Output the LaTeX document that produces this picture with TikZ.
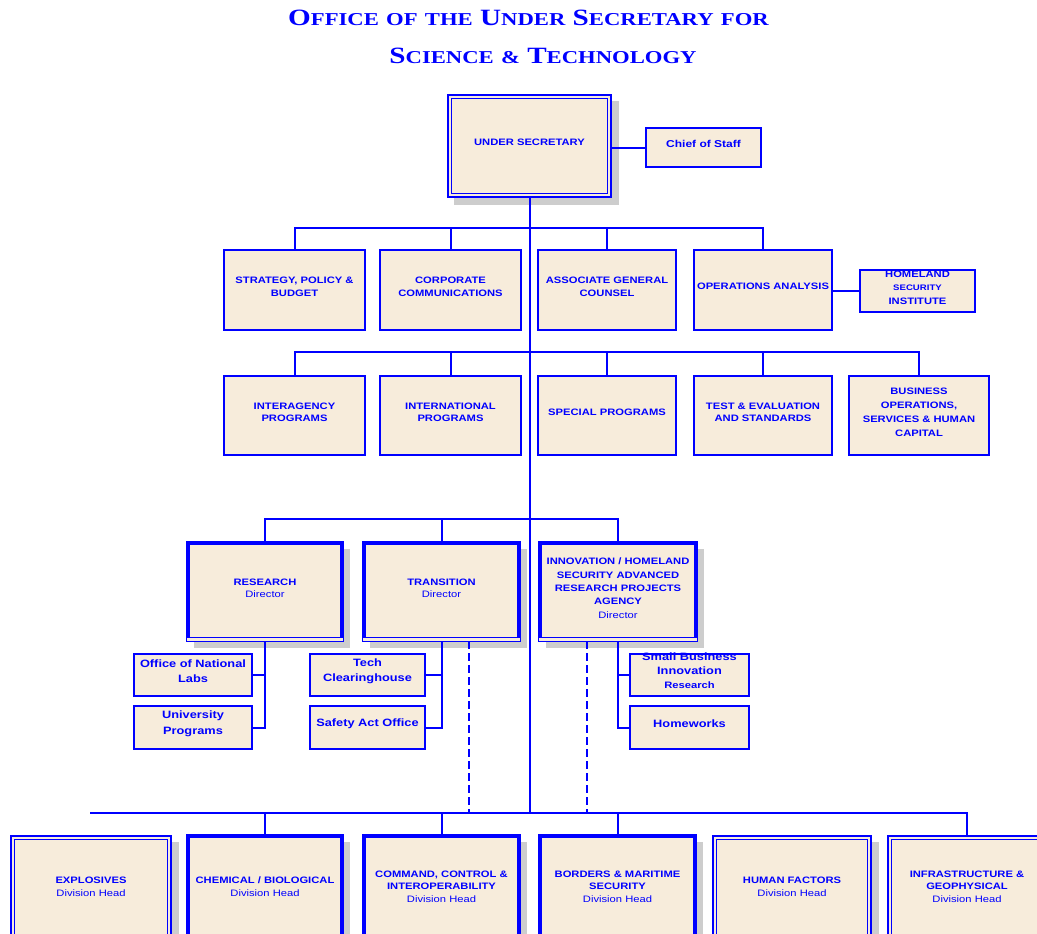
\documentclass[tikz,border=0pt]{standalone}
\usepackage{fontspec}
\usetikzlibrary{shadows,fit}
\newfontfamily\titlefont[FakeStretch=1.25]{Liberation Serif}
\newfontfamily\boxfont[FakeStretch=1.2]{Liberation Sans}
\definecolor{bl}{RGB}{0,0,255}
\definecolor{beige}{RGB}{247,236,219}
\definecolor{shade}{RGB}{205,205,205}
\newcommand{\tA}[2]{{\fontsize{17.5}{20}\selectfont #1}{\fontsize{13.6}{16}\selectfont #2}}
\newcommand{\tB}[1]{{\fontsize{13.6}{16}\selectfont #1}}
\newcommand{\tframe}[1]{%
 \draw[bl, line width=0.9pt] (#1.south west) rectangle (#1.north east);
 \draw[bl, line width=2.4pt] ([shift={(1.6pt,2.8pt)}]#1.south west) -- ([shift={(1.6pt,-1.6pt)}]#1.north west) -- ([shift={(-1.6pt,-1.6pt)}]#1.north east) -- ([shift={(-1.6pt,2.8pt)}]#1.south east);
 \draw[bl, line width=0.9pt] ([shift={(1.6pt,2.8pt)}]#1.south west) -- ([shift={(-1.6pt,2.8pt)}]#1.south east);}
\newcommand{\dframe}[1]{%
 \draw[bl, line width=1.5pt] ([shift={(0.75pt,0.75pt)}]#1.south west) rectangle ([shift={(-0.75pt,-0.75pt)}]#1.north east);
 \draw[bl, line width=1.3pt] ([shift={(3.6pt,3.6pt)}]#1.south west) rectangle ([shift={(-3.6pt,-3.6pt)}]#1.north east);}
\tikzset{
 conn/.style={draw=bl, line width=1.5pt},
 dashconn/.style={draw=bl, line width=1.5pt, dash pattern=on 5.5pt off 3.5pt},
 basebox/.style={fill=beige, text=bl, inner sep=0pt, align=center, font=\boxfont\bfseries\fontsize{7}{9.5}\selectfont},
 box/.style={basebox, draw=bl, line width=1.5pt},
 dbox/.style={basebox},
 tbox/.style={basebox},
 shad/.style={general shadow={fill=shade, shadow xshift=5pt, shadow yshift=-5pt}},
 subbox/.style={box, font=\boxfont\bfseries\fontsize{8}{11.5}\selectfont},
 titletext/.style={text=bl, anchor=base, inner sep=0pt, font=\titlefont\bfseries\fontsize{17.5}{20}\selectfont},
}
\begin{document}
\begin{tikzpicture}[x=0.75pt,y=-0.75pt]
\useasboundingbox (0,0) rectangle (1037,933);
\begin{scope}
\clip (0,0) rectangle (1037,933);
% title
\node[titletext] (t1) at (528.5,25.5) {\tA{O}{FFICE} \tB{OF} \tB{THE} \tA{U}{NDER} \tA{S}{ECRETARY} \tB{FOR}};
\node[titletext] (t2) at (543,63) {\tA{S}{CIENCE} \tB{\&} \tA{T}{ECHNOLOGY}};
% bus levels
\coordinate (b2) at (0,228);
\coordinate (b3) at (0,352);
\coordinate (b4) at (0,519);
\coordinate (b5) at (0,813);
\coordinate (b5l) at (90,813);
\coordinate (dx1) at (469,0);
\coordinate (dx2) at (587,0);
% top
\node[dbox, shad, fit={(447,94) (612,198)}] (us) {UNDER SECRETARY};
\dframe{us}
\node[box, fit={(646,128) (761,167)}, font=\boxfont\bfseries\fontsize{7.5}{9.5}\selectfont] (cos) {Chief of Staff};
% row 2
\node[box, fit={(224,250) (365,330)}] (spb) {STRATEGY, POLICY \&\\BUDGET};
\node[box, fit={(380,250) (521,330)}] (cc) {CORPORATE\\COMMUNICATIONS};
\node[box, fit={(538,250) (676,330)}] (agc) {ASSOCIATE GENERAL\\COUNSEL};
\node[box, fit={(694,250) (832,330)}] (oa) {OPERATIONS ANALYSIS};
\node[box, fit={(860,270) (975,312)}, font=\boxfont\bfseries\fontsize{7}{10}\selectfont] (hsi) {HOMELAND\\{\fontsize{6}{10}\selectfont SECURITY}\\INSTITUTE};
% row 3
\node[box, fit={(224,376) (365,455)}] (ip) {INTERAGENCY\\PROGRAMS};
\node[box, fit={(380,376) (521,455)}] (intl) {INTERNATIONAL\\PROGRAMS};
\node[box, fit={(538,376) (676,455)}] (sp) {SPECIAL PROGRAMS};
\node[box, fit={(694,376) (832,455)}] (te) {TEST \& EVALUATION\\AND STANDARDS};
\node[box, fit={(849,376) (989,455)}, font=\boxfont\bfseries\fontsize{7}{10.5}\selectfont] (bus) {BUSINESS\\OPERATIONS,\\SERVICES \& HUMAN\\CAPITAL};
% row 4
\node[tbox, shad, fit={(187,542) (343,641)}] (res) {RESEARCH\\{\mdseries Director}};
\node[tbox, shad, fit={(363,542) (520,641)}] (tra) {TRANSITION\\{\mdseries Director}};
\node[tbox, shad, fit={(539,542) (697,641)}, font=\boxfont\bfseries\fontsize{7}{10}\selectfont] (inn) {INNOVATION / HOMELAND\\SECURITY ADVANCED\\RESEARCH PROJECTS\\AGENCY\\{\mdseries Director}};
\tframe{res}\tframe{tra}\tframe{inn}
% sub boxes
\node[subbox, fit={(134,654) (252,696)}] (onl) {Office of National\\Labs};
\node[subbox, fit={(134,706) (252,749)}] (up) {University\\Programs};
\node[subbox, fit={(310,654) (425,696)}] (tc) {Tech\\Clearinghouse};
\node[subbox, fit={(310,706) (425,749)}] (sao) {Safety Act Office};
\node[subbox, fit={(630,654) (749,696)}, font=\boxfont\bfseries\fontsize{8}{10.5}\selectfont] (sbir) {Small Business\\Innovation\\{\fontsize{7}{10.5}\selectfont Research}};
\node[subbox, fit={(630,706) (749,749)}] (hw) {Homeworks};
% bottom row
\node[dbox, shad, fit={(10,835) (172,945)}] (exp) {EXPLOSIVES\\{\mdseries Division Head}\\[14pt]};
\node[tbox, shad, fit={(187,835) (343,945)}] (cb) {CHEMICAL / BIOLOGICAL\\{\mdseries Division Head}\\[14pt]};
\node[tbox, shad, fit={(363,835) (520,945)}] (cci) {COMMAND, CONTROL \&\\INTEROPERABILITY\\{\mdseries Division Head}\\[14pt]};
\node[tbox, shad, fit={(539,835) (696,945)}] (bms) {BORDERS \& MARITIME\\SECURITY\\{\mdseries Division Head}\\[14pt]};
\node[dbox, shad, fit={(712,835) (872,945)}] (hf) {HUMAN FACTORS\\{\mdseries Division Head}\\[14pt]};
\node[dbox, shad, fit={(887,835) (1047,945)}] (inf) {INFRASTRUCTURE \&\\GEOPHYSICAL\\{\mdseries Division Head}\\[14pt]};
\tframe{cb}\tframe{cci}\tframe{bms}
\dframe{exp}\dframe{hf}\dframe{inf}
% connectors
\draw[conn] (us.east |- cos.west) -- (cos.west);
\draw[conn] (oa.east |- hsi.west) -- (hsi.west);
\draw[conn] (spb.north) -- (spb.north |- b2) -| (oa.north);
\draw[conn] (cc.north) -- (cc.north |- b2);
\draw[conn] (agc.north) -- (agc.north |- b2);
\draw[conn] (ip.north) -- (ip.north |- b3) -| (bus.north);
\draw[conn] (intl.north) -- (intl.north |- b3);
\draw[conn] (sp.north) -- (sp.north |- b3);
\draw[conn] (te.north) -- (te.north |- b3);
\draw[conn] (res.north) -- (res.north |- b4) -| (inn.north);
\draw[conn] (tra.north) -- (tra.north |- b4);
\draw[conn] (res.south) -- (res.south |- up.east) -- (up.east);
\draw[conn] (res.south |- onl.east) -- (onl.east);
\draw[conn] (tra.south) -- (tra.south |- sao.east) -- (sao.east);
\draw[conn] (tra.south |- tc.east) -- (tc.east);
\draw[conn] (inn.south) -- (inn.south |- hw.west) -- (hw.west);
\draw[conn] (inn.south |- sbir.west) -- (sbir.west);
\draw[dashconn] (tra.south -| dx1) -- (b5 -| dx1);
\draw[dashconn] (inn.south -| dx2) -- (b5 -| dx2);
\draw[conn] (b5l) -- (b5l -| inf.north) -- (inf.north);
\draw[conn] (cb.north |- b5) -- (cb.north);
\draw[conn] (cci.north |- b5) -- (cci.north);
\draw[conn] (bms.north |- b5) -- (bms.north);
\draw[conn] (us.south) -- (us.south |- b5);
\end{scope}
\end{tikzpicture}
\end{document}
